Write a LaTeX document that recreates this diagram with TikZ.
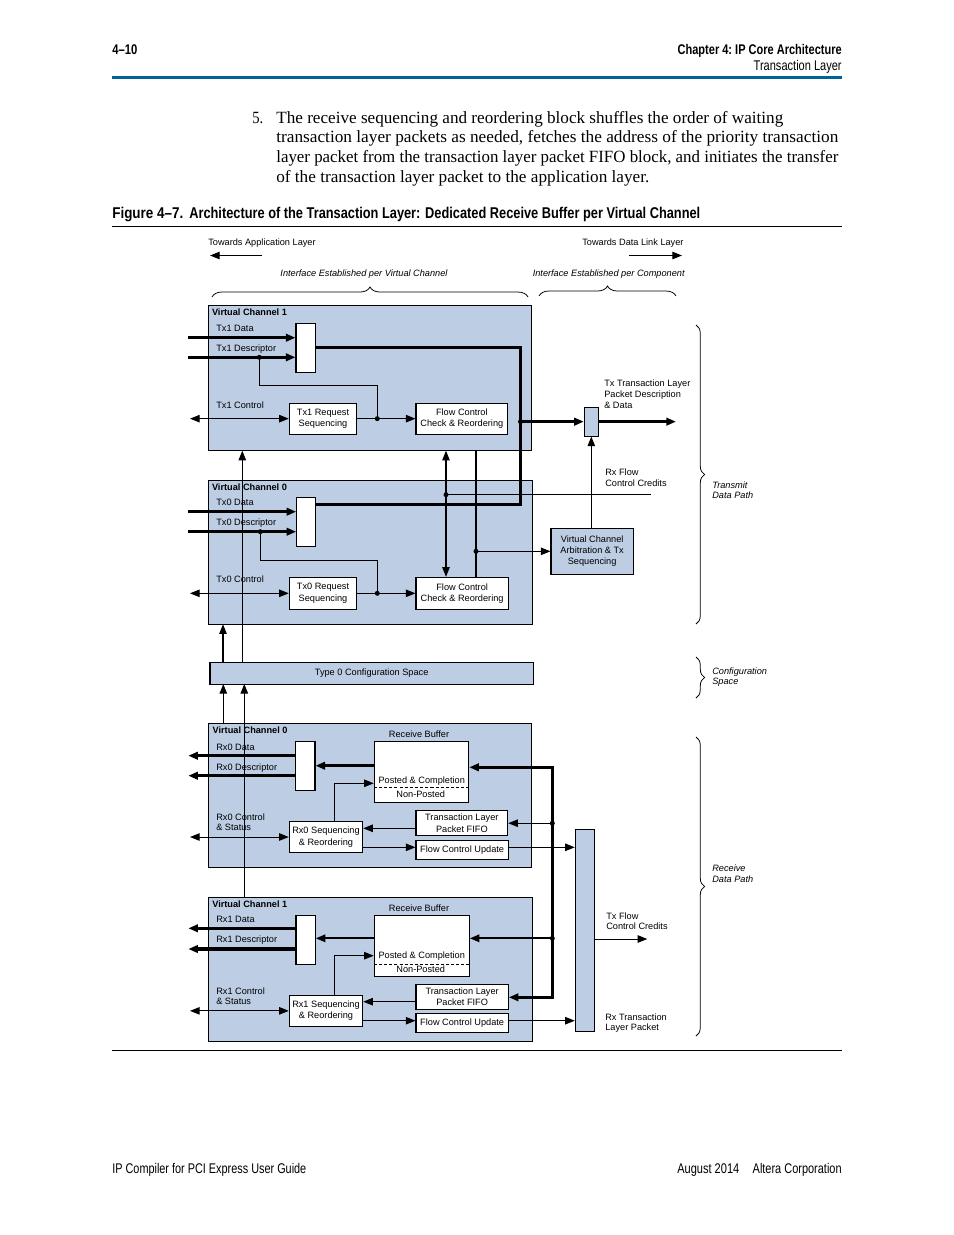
\documentclass[tikz,border=0pt]{standalone}
\usepackage{fontspec}
\setmainfont{Liberation Serif}
\setsansfont{Liberation Sans}
\usepackage{graphicx}
\usetikzlibrary{arrows.meta,decorations.pathreplacing,fit}
\definecolor{vcblue}{RGB}{189,205,228}
\definecolor{hblue}{RGB}{0,98,150}
\newdimen\pxu \pxu=0.6415pt
\newcommand\fitw[2]{\resizebox{#1\pxu}{\height}{#2}}
\newcommand\dfont{\sffamily\fontsize{5.9}{7.2}\selectfont}
\newcommand\hfont{\sffamily\fontsize{9}{11}\selectfont}
\newcommand\bfont{\rmfamily\fontsize{11}{13}\selectfont}
\newcommand\cfont{\sffamily\bfseries\fontsize{10}{12}\selectfont}
\begin{document}
\begin{tikzpicture}[x=0.6415pt,y=-0.6415pt,
  >={Triangle[length=6.2pt,width=4.8pt]},
  thinln/.style={line width=0.65pt},
  medln/.style={line width=1.3pt},
  thickln/.style={line width=2pt},
  lbl/.style={font=\dfont, inner sep=0pt, anchor=base west},
  lblc/.style={font=\dfont, inner sep=0pt, anchor=base},
  btxt/.style={font=\dfont, inner sep=0pt, anchor=center, align=center},
  txt/.style={inner sep=0pt, anchor=base west},
  vcbox/.style={draw, line width=0.65pt, fill=vcblue, inner sep=0pt},
  wbox/.style={draw, line width=0.65pt, fill=white, inner sep=0pt},
  bbox/.style={draw, line width=0.65pt, fill=vcblue, inner sep=0pt},
  jdot/.style={circle, fill=black, inner sep=0pt, minimum size=3.2pt},
  brc/.style={decorate, decoration={brace, amplitude=6.4pt}, line width=0.5pt},
  brcr/.style={decorate, decoration={brace, amplitude=5.5pt}, line width=0.5pt},
  dsh/.style={line width=0.65pt, dash pattern=on 2pt off 1.3pt},
]
\fill[white] (0,0) rectangle (954,1235);
\useasboundingbox (0,0) rectangle (954,1235);

% ---------- page header ----------
\node[txt] (pgn) at (112,54.5) {\fitw{25}{\hfont\bfseries 4–10}};
\node[txt, anchor=base east] (chap) at (842,54.5) {\fitw{164}{\hfont\bfseries Chapter 4:\ IP Core Architecture}};
\node[txt, anchor=base east] (sect) at (842,70.5) {\fitw{88}{\hfont Transaction Layer}};
\draw[hblue, line width=1.3pt] (112,77.5) -- (842,77.5);

% ---------- body text ----------
\node[txt] (b0) at (252,123) {\fitw{11}{\bfont 5.}};
\node[txt] (b1) at (276,123) {\fitw{507}{\bfont The receive sequencing and reordering block shuffles the order of waiting}};
\node[txt] (b2) at (276,142.8) {\fitw{562}{\bfont transaction layer packets as needed, fetches the address of the priority transaction}};
\node[txt] (b3) at (276,162.4) {\fitw{562}{\bfont layer packet from the transaction layer packet FIFO block, and initiates the transfer}};
\node[txt] (b4) at (276,182) {\fitw{373}{\bfont of the transaction layer packet to the application layer.}};

% ---------- caption ----------
\node[txt] (fig) at (112,218) {\fitw{71}{\cfont Figure 4–7.}};
\node[txt] (cap) at (189,218) {\fitw{511}{\cfont Architecture of the Transaction Layer: Dedicated Receive Buffer per Virtual Channel}};
\draw[line width=0.65pt] (112,226) -- (842,226);

% ---------- top labels ----------
\node[lbl] (tapp) at (208,245) {Towards Application Layer};
\coordinate (tappA) at (262,255.5); \coordinate (tappB) at (210,255.5);
\draw[thinln,->] (tappA) -- (tappB);
\node[lbl] (tdll) at (582,245) {Towards Data Link Layer};
\coordinate (tdlA) at (629,255.5); \coordinate (tdlB) at (682,255.5);
\draw[thinln,->] (tdlA) -- (tdlB);
\node[lblc, font=\dfont\itshape] (ievc) at (364,276) {Interface Established per Virtual Channel};
\node[lblc, font=\dfont\itshape] (iec) at (608.7,276) {Interface Established per Component};
\coordinate (br1a) at (212,297); \coordinate (br1b) at (528,297);
\draw[brc] (br1a) -- (br1b);
\coordinate (br2a) at (539,296); \coordinate (br2b) at (676,296);
\draw[brc] (br2a) -- (br2b);

% ---------- right braces ----------
\coordinate (rb1a) at (696,325); \coordinate (rb1b) at (696,624);
\draw[brcr] (rb1a) -- (rb1b);
\coordinate (rb2a) at (696,657); \coordinate (rb2b) at (696,698);
\draw[brcr] (rb2a) -- (rb2b);
\coordinate (rb3a) at (696,737); \coordinate (rb3b) at (696,1036);
\draw[brcr] (rb3a) -- (rb3b);
\node[lbl, font=\dfont\itshape] (tdp1) at (712,488.3) {Transmit};
\node[lbl, font=\dfont\itshape] (tdp2) at (712,498.3) {Data Path};
\node[lbl, font=\dfont\itshape] (csp1) at (712,674) {Configuration};
\node[lbl, font=\dfont\itshape] (csp2) at (712,684) {Space};
\node[lbl, font=\dfont\itshape] (rdp1) at (712,871.7) {Receive};
\node[lbl, font=\dfont\itshape] (rdp2) at (712,882.3) {Data Path};

% ---------- big blue boxes ----------
\node[vcbox, fit={(208.3,305) (531.7,450.7)}] (vc1) {};
\node[vcbox, fit={(208.3,480.7) (532.3,624.3)}] (vc0) {};
\node[vcbox, fit={(210,662.3) (533.3,684)}] (cfg) {};
\node[btxt] (cfgt) at (cfg.center) {Type 0 Configuration Space};
\node[vcbox, fit={(208.3,723.3) (531.7,867.3)}] (rvc0) {};
\node[vcbox, fit={(208.3,897.3) (532.3,1041)}] (rvc1) {};

% ---------- Tx VC1 ----------
\node[lbl, font=\dfont\bfseries] (vc1l) at (211.7,315.7) {Virtual Channel 1};
\node[lbl] (tx1d) at (216,331) {Tx1 Data};
\node[lbl] (tx1s) at (216,351) {Tx1 Descriptor};
\node[lbl] (tx1c) at (216,408.3) {Tx1 Control};
\node[wbox, fit={(296,323.3) (315.7,372.3)}] (mux1) {};
\node[wbox, fit={(289.3,403.3) (356.7,434)}] (req1) {};
\node[btxt] (req1t) at (req1.center) {Tx1 Request\\Sequencing};
\node[wbox, fit={(416,403.3) (507.7,434)}] (fcc1) {};
\node[btxt] (fcc1t) at (fcc1.center) {Flow Control\\Check \& Reordering};
\coordinate (tx1dA) at (188.3,337.7);
\draw[thickln,->] (tx1dA) -- (tx1dA -| mux1.west);
\coordinate (tx1sA) at (188.3,357.3);
\draw[thickln,->] (tx1sA) -- (tx1sA -| mux1.west);
\coordinate (j1a) at (259.3,357.3);
\coordinate (j1b) at (377.3,418.65);
\draw[thinln] (j1a) -- (259.3,385.7) -- (377.3,385.7) -- (j1b);
\coordinate (tx1cA) at (190,418.65);
\draw[thinln,<->] (tx1cA) -- (tx1cA -| req1.west);
\draw[thinln,->] (req1.east) -- (fcc1.west);

% ---------- Tx VC0 ----------
\node[lbl, font=\dfont\bfseries] (vc0l) at (211.7,490) {Virtual Channel 0};
\node[lbl] (tx0d) at (216,505.7) {Tx0 Data};
\node[lbl] (tx0s) at (216,525.7) {Tx0 Descriptor};
\node[lbl] (tx0c) at (216,582.7) {Tx0 Control};
\node[wbox, fit={(296.7,497.3) (315.7,546.7)}] (mux0) {};
\node[wbox, fit={(289.3,577.3) (356.7,609.3)}] (req0) {};
\node[btxt] (req0t) at (req0.center) {Tx0 Request\\Sequencing};
\node[wbox, fit={(416,577.3) (508.3,609.3)}] (fcc0) {};
\node[btxt] (fcc0t) at (fcc0.center) {Flow Control\\Check \& Reordering};
\coordinate (tx0dA) at (188.3,511.7);
\draw[thickln,->] (tx0dA) -- (tx0dA -| mux0.west);
\coordinate (tx0sA) at (188.3,531.7);
\draw[thickln,->] (tx0sA) -- (tx0sA -| mux0.west);
\coordinate (j0a) at (260.3,531.7);
\coordinate (j0b) at (377.3,593.3);
\draw[thinln] (j0a) -- (260.3,560.7) -- (377.3,560.7) -- (j0b);
\coordinate (tx0cA) at (190,593.3);
\draw[thinln,<->] (tx0cA) -- (tx0cA -| req0.west);
\draw[thinln,->] (req0.east) -- (fcc0.west);

% ---------- Tx shared path ----------
\coordinate (tv1) at (520.5,347.5); \coordinate (tv0) at (520.5,504.3);
\draw[thickln] (mux1.east |- tv1) -- (tv1) -- (tv0) -- (tv0 -| mux0.east);
\node[bbox, fit={(584.3,407.3) (598.3,436)}] (sbox) {};
\coordinate (j1c) at (520.5,421.65);
\draw[thickln,->] (j1c) -- (j1c -| sbox.west);
\coordinate (txout) at (676,421.65);
\draw[thickln,->] (sbox.east |- txout) -- (txout);
\node[lbl] (ttl1) at (604,386) {Tx Transaction Layer};
\node[lbl] (ttl2) at (604,397) {Packet Description};
\node[lbl] (ttl3) at (604,408) {\& Data};

\coordinate (v446t) at (446,450.7);
\draw[thinln,<->] (v446t) -- (v446t |- fcc0.north);
\coordinate (jrx) at (446,494.7); \coordinate (rxcrE) at (651,494.7);
\draw[thinln] (jrx) -- (rxcrE);
\coordinate (v476t) at (476,450.7);
\draw[thinln] (v476t) -- (v476t |- fcc0.north);
\node[bbox, fit={(551,528.3) (633.3,574.3)}] (arb) {};
\node[btxt] (arbt) at (arb.center) {Virtual Channel\\Arbitration \& Tx\\Sequencing};
\coordinate (j476) at (476,551.3);
\draw[thinln,->] (j476) -- (j476 -| arb.west);
\draw[thinln,->] (sbox.south |- arb.north) -- (sbox.south);
\node[lbl] (rfc1) at (605,475) {Rx Flow};
\node[lbl] (rfc2) at (605,486) {Control Credits};

% ---------- configuration space links ----------
\coordinate (c223t) at (223,624.3);
\draw[thinln,->] (c223t |- cfg.north) -- (c223t);
\coordinate (c242t) at (242.3,450.7);
\draw[thinln,->] (c242t |- cfg.north) -- (c242t);

% ---------- Rx VC0 ----------
\node[lbl, font=\dfont\bfseries] (rv0l) at (212.3,733.3) {Virtual Channel 0};
\node[lblc] (rb0) at (419,737.7) {Receive Buffer};
\node[wbox, fit={(374.3,741) (468.7,802.3)}] (buf0) {};
\node[lblc] (pc0) at (421.7,783.3) {Posted \& Completion};
\node[lblc] (np0) at (420.7,797.3) {Non-Posted};
\coordinate (dash0) at (0,787.3);
\draw[dsh] (buf0.west |- dash0) -- (buf0.east |- dash0);
\node[wbox, fit={(295.3,741.7) (315,790)}] (mr0) {};
\node[lbl] (rx0d) at (216,750) {Rx0 Data};
\node[lbl] (rx0s) at (216,770) {Rx0 Descriptor};
\node[lbl] (rx0c1) at (216,820) {Rx0 Control};
\node[lbl] (rx0c2) at (216,830.7) {\& Status};
\coordinate (rx0dE) at (188.3,755.7);
\draw[thickln,->] (rx0dE -| mr0.west) -- (rx0dE);
\coordinate (rx0sE) at (188.3,775.7);
\draw[thickln,->] (rx0sE -| mr0.west) -- (rx0sE);
\coordinate (b0m) at (0,765.7);
\draw[thickln,->] (buf0.west |- b0m) -- (mr0.east |- b0m);
\node[wbox, fit={(416,810.7) (507.7,835.7)}] (fifo0) {};
\node[btxt] (fifo0t) at (fifo0.center) {Transaction Layer\\Packet FIFO};
\node[wbox, fit={(289.3,821.7) (362.7,852.3)}] (seq0) {};
\node[btxt] (seq0t) at (seq0.center) {Rx0 Sequencing\\\& Reordering};
\node[wbox, fit={(416,840.7) (508.3,859.3)}] (fcu0) {};
\node[btxt] (fcu0t) at (fcu0.center) {Flow Control Update};
\coordinate (f0s) at (0,828.3);
\draw[thinln,->] (fifo0.west |- f0s) -- (seq0.east |- f0s);
\coordinate (s0u) at (334.3,783.3);
\draw[thinln,->] (s0u |- seq0.north) -- (s0u) -- (s0u -| buf0.west);
\coordinate (s0f) at (0,847.3);
\draw[thinln,->] (seq0.east |- s0f) -- (fcu0.west |- s0f);
\coordinate (rx0cA) at (190,837);
\draw[thinln,<->] (rx0cA) -- (rx0cA -| seq0.west);

% ---------- Rx VC1 ----------
\node[lbl, font=\dfont\bfseries] (rv1l) at (212,907.7) {Virtual Channel 1};
\node[lblc] (rb1) at (419,911.7) {Receive Buffer};
\node[wbox, fit={(374.3,915.7) (469.3,976.7)}] (buf1) {};
\node[lblc] (pc1) at (421.7,958.3) {Posted \& Completion};
\node[lblc] (np1) at (420.7,972.3) {Non-Posted};
\coordinate (dash1) at (0,964);
\draw[dsh] (buf1.west |- dash1) -- (buf1.east |- dash1);
\node[wbox, fit={(296,915.7) (315.3,964)}] (mr1) {};
\node[lbl] (rx1d) at (216,922.3) {Rx1 Data};
\node[lbl] (rx1s) at (216,942.3) {Rx1 Descriptor};
\node[lbl] (rx1c1) at (216,994) {Rx1 Control};
\node[lbl] (rx1c2) at (216,1004) {\& Status};
\coordinate (rx1dE) at (188.3,928.3);
\draw[thickln,->] (rx1dE -| mr1.west) -- (rx1dE);
\coordinate (rx1sE) at (188.3,949);
\draw[thickln,->] (rx1sE -| mr1.west) -- (rx1sE);
\coordinate (b1m) at (0,938.3);
\draw[medln,->] (buf1.west |- b1m) -- (mr1.east |- b1m);
\node[wbox, fit={(416,984.3) (508.3,1009)}] (fifo1) {};
\node[btxt] (fifo1t) at (fifo1.center) {Transaction Layer\\Packet FIFO};
\node[wbox, fit={(289.3,995) (362.7,1026.7)}] (seq1) {};
\node[btxt] (seq1t) at (seq1.center) {Rx1 Sequencing\\\& Reordering};
\node[wbox, fit={(416,1013.3) (508.3,1032.3)}] (fcu1) {};
\node[btxt] (fcu1t) at (fcu1.center) {Flow Control Update};
\coordinate (f1s) at (0,1001.7);
\draw[thinln,->] (fifo1.west |- f1s) -- (seq1.east |- f1s);
\coordinate (s1u) at (334.3,955.7);
\draw[thinln,->] (s1u |- seq1.north) -- (s1u) -- (s1u -| buf1.west);
\coordinate (s1f) at (0,1020.7);
\draw[thinln,->] (seq1.east |- s1f) -- (fcu1.west |- s1f);
\coordinate (rx1cA) at (190,1010.85);
\draw[thinln,<->] (rx1cA) -- (rx1cA -| seq1.west);

% ---------- Rx shared path ----------
\node[bbox, fit={(575.3,829.3) (594.3,1031.3)}] (big) {};
\draw[thinln,->] (fcu0.east |- s0f) -- (big.west |- s0f);
\draw[thinln,->] (fcu1.east |- s1f) -- (big.west |- s1f);
\coordinate (rv0t) at (552.3,767.3); \coordinate (rv1b) at (552.3,997.3);
\draw[thickln,<->] (buf0.east |- rv0t) -- (rv0t) -- (rv1b) -- (fifo1.east |- rv1b);
\coordinate (j0f) at (552.3,823.2);
\draw[thinln,->] (j0f) -- (j0f -| fifo0.east);
\coordinate (j1r) at (552.3,938.3);
\draw[medln,->] (j1r) -- (j1r -| buf1.east);
\coordinate (txfcE) at (647.3,939);
\draw[thinln,->] (big.east |- txfcE) -- (txfcE);
\node[lbl] (tfc1) at (606,919) {Tx Flow};
\node[lbl] (tfc2) at (606,929.3) {Control Credits};
\node[lbl] (rtl1) at (605,1020) {Rx Transaction};
\node[lbl] (rtl2) at (605,1030.7) {Layer Packet};

\coordinate (c223b) at (223.3,684);
\draw[thinln,->] (c223b |- rvc0.north) -- (c223b);
\coordinate (c244b) at (244.3,684);
\draw[thinln,->] (c244b |- rvc1.north) -- (c244b);

% ---------- junction dots ----------
\foreach \p in {j1a,j1b,j1c,j0a,j0b,jrx,j476,j0f,j1r}
  \node[jdot] (d\p) at (\p) {};

% ---------- footer ----------
\draw[line width=0.65pt] (112,1050.7) -- (842,1050.7);
\node[txt] (ft1) at (112,1173.5) {\fitw{194}{\hfont IP Compiler for PCI Express User Guide}};
\node[txt] (ft2) at (677,1173.5) {\fitw{62}{\hfont August 2014}};
\node[txt, anchor=base east] (ft3) at (842,1173.5) {\fitw{89}{\hfont Altera Corporation}};
\end{tikzpicture}
\end{document}
